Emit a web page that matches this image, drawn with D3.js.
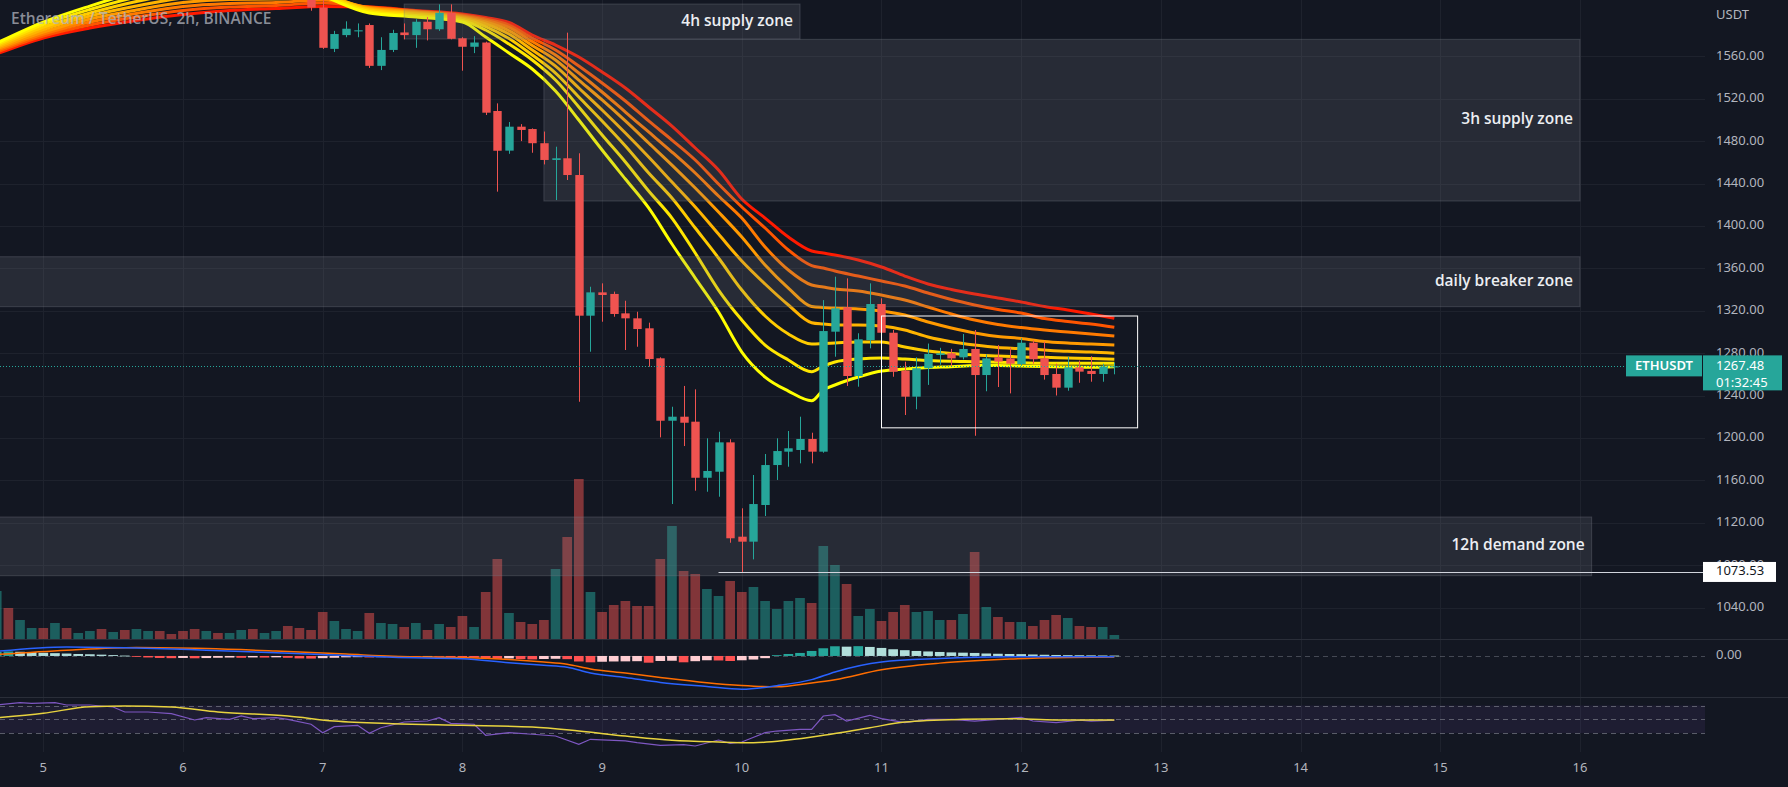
<!DOCTYPE html>
<html><head><meta charset="utf-8">
<script src="https://cdn.jsdelivr.net/npm/d3@7"></script>
<style>html,body{margin:0;padding:0;background:#131722;overflow:hidden}</style>
</head><body><svg id="c" width="1788" height="787"></svg>
<script>
// ---------------- DATA ----------------
const title = "Ethereum / TetherUS, 2h, BINANCE";
const firstCandleIdx = -1; // 2h candle index, 0 = Nov 7 00:00
const opens  = [1625,1606,1567,1580,1583.5,1589.5,1551,1566,1582.5,1580,1592.6,1585.5,1601,1577,1569,1573,1508.4,1471,1493.6,1491.4,1478,1462.2,1463.8,1448,1315.3,1337.3,1335.8,1317.5,1312.8,1303.4,1275.1,1216.2,1220,1215.3,1162.4,1168.1,1195.8,1106.8,1102.1,1136.7,1174.4,1187,1188.6,1199,1187,1300.2,1323.2,1258.4,1292.3,1326.3,1299.2,1263.4,1238.9,1265.7,1278.2,1279.8,1276,1283.9,1259.3,1276,1275,1269.7,1289.8,1275,1260.3,1247.4,1266.6,1263.2,1260.3,1267];
const highs  = [1632,1615,1584,1593,1591,1591,1578,1585,1591,1595,1597,1609,1609,1578,1579,1573.8,1515.6,1498,1496,1492,1489,1474.7,1582.3,1468.5,1342.6,1345.8,1338,1329.4,1319,1308.7,1276,1229.4,1249,1245.8,1199.6,1205.8,1198.7,1133.6,1165,1184.8,1199.6,1206.5,1220,1204.9,1330,1352.1,1350.5,1298.7,1345.8,1331.7,1301.8,1271.9,1276,1289,1285,1284,1298,1301.8,1278.7,1287.6,1285,1294,1292,1290.7,1270,1276.6,1273,1277,1270,1271];
const lows   = [1603,1567,1564,1578,1578,1549,1547,1564,1576,1568,1575,1584,1576,1546.4,1563,1504.6,1432.3,1468,1480,1469,1458,1424.4,1443.3,1234.1,1281.3,1309.6,1314.3,1282.9,1286,1267.2,1200.5,1137.6,1192.3,1150.2,1149.2,1144.5,1101.1,1073.53,1085.4,1126.3,1160.3,1172.8,1176,1176,1186,1276.6,1249,1248.3,1284.5,1297,1257.7,1221.6,1227,1250,1269,1268,1274,1202,1244,1248,1242,1268,1270,1255,1240,1244.5,1252,1253,1253,1260];
const closes = [1606,1568,1581,1586,1584.5,1551,1566,1582,1580,1592.6,1585.5,1601,1576.5,1569,1573,1506.8,1470.9,1493.6,1490.5,1478,1462.2,1463.8,1448,1315.3,1337.3,1334.8,1316.9,1312.8,1302.7,1274.4,1216.2,1220,1214.3,1162.4,1168.8,1195.8,1105.3,1102.1,1137.6,1174.4,1187.6,1190.2,1199,1187,1300.8,1322.2,1258.4,1293,1326.3,1299.2,1262.4,1238.9,1265.7,1279.2,1279.8,1275,1283.9,1259.3,1275,1272,1270,1289.8,1274.2,1259.3,1247.4,1266.6,1262.5,1260.3,1267.2,1267.48];

const firstVolIdx = -28;
const volumes = [48,31,19,11,11,16,11,6,8,10,7,9,10,8,8,5,8,10,8,6,6,9,10,6,8,13,11,9,
  27,18,10,8,26,16,15,12,16,9,15,12,23,12,47,80,26,17,15,19,70,102,160,47,27,34,38,33,33,80,113,68,65,50,43,58,47,52,38,30,38,41,36,93,74,55,23,30,18,27,34,27,28,19,19,25,87,32,22,17,17,13,19,24,21,13,12,12,4];
const earlyVolUp = [1,0,1,1,0,1,0,1,1,0,1,0,1,1,0,0,0,0,1,0,1,1,0,1,1,0,0]; // bars -28..-2

const ribbonIdx = [-28,-24,-20,-16,-12,-8,-4,0,4,8,12,14,16,18,20,22,24,26,28,30,32,34,36,38,40,42,43,44,46,48,50,52,54,56,58,60,62,64,66,68];
const ema1 = [1572.5,1592.3,1607.4,1620.6,1630.1,1633.9,1632.0,1616.9,1600.8,1597.1,1592.3,1578.2,1563.1,1548.0,1527.3,1499.9,1471.6,1444.2,1416.9,1382.9,1350.8,1318.8,1281.0,1257.4,1244.2,1235.1,1245.2,1249.9,1257.4,1263.1,1265.0,1266.4,1267.2,1268.3,1268.3,1267.8,1267.3,1266.9,1266.6,1267.2];
const ema2 = [1571.1,1590.0,1604.1,1615.9,1624.4,1628.2,1627.3,1617.8,1602.3,1598.5,1593.8,1584.8,1571.6,1556.5,1537.6,1512.2,1485.8,1460.3,1432.9,1407.4,1374.4,1339.5,1311.2,1287.6,1273.5,1262.4,1267.8,1271.6,1274.4,1275.4,1274.4,1273.0,1272.2,1271.9,1271.4,1270.9,1270.4,1270.4,1270.4,1270.4];
const ema3 = [1569.7,1587.6,1600.8,1611.7,1619.7,1622.5,1622.5,1617.8,1603.7,1599.9,1595.2,1588.1,1576.8,1561.2,1544.2,1521.6,1499.0,1475.4,1449.9,1426.3,1398.0,1369.7,1339.5,1315.0,1298.0,1288.6,1289.0,1289.5,1290.5,1290.5,1285.7,1282.0,1279.6,1278.2,1277.2,1276.3,1276.0,1275.4,1274.9,1274.2];
const ema4 = [1568.3,1585.3,1598.0,1607.4,1615.0,1617.8,1618.3,1616.9,1604.6,1600.8,1596.1,1590.5,1581.0,1565.9,1550.8,1530.1,1509.3,1487.6,1465.0,1441.4,1417.8,1392.3,1366.9,1345.2,1325.4,1308.7,1307.4,1306.5,1306.5,1305.5,1301.8,1295.2,1290.7,1287.6,1285.3,1284.3,1282.9,1281.7,1281.0,1279.8];
const ema5 = [1566.9,1582.9,1595.2,1603.7,1610.7,1613.6,1614.0,1615.5,1605.5,1601.8,1597.1,1592.3,1584.3,1570.2,1556.5,1537.6,1518.8,1499.0,1478.2,1457.4,1435.7,1413.1,1389.5,1363.1,1341.4,1324.0,1323.0,1322.5,1321.6,1319.7,1315.9,1309.3,1303.7,1299.0,1295.6,1293.8,1290.9,1289.5,1288.6,1287.6];
const ema6 = [1565.5,1581.0,1592.3,1600.4,1607.0,1609.8,1610.7,1613.1,1606.0,1602.3,1598.0,1593.8,1587.2,1573.9,1561.2,1544.2,1526.3,1507.4,1488.6,1469.7,1449.9,1428.2,1407.4,1380.1,1358.4,1344.2,1342.3,1340.4,1338.6,1334.8,1330.1,1323.5,1316.9,1311.2,1307.0,1304.1,1301.8,1299.9,1298.0,1296.1];
const ema7 = [1564.0,1579.1,1589.5,1597.1,1603.2,1606.5,1607.9,1610.3,1606.5,1602.7,1599.0,1595.2,1589.5,1577.2,1565.9,1550.8,1534.8,1517.8,1499.0,1481.0,1462.2,1439.5,1417.8,1398.0,1377.3,1362.6,1360.3,1357.4,1352.7,1348.0,1343.3,1336.7,1330.5,1325.4,1321.1,1317.8,1312.6,1309.8,1307.4,1304.3];
const ema8 = [1562.2,1577.3,1586.7,1593.8,1599.4,1603.2,1605.1,1607.0,1606.5,1603.2,1599.9,1596.6,1591.9,1580.1,1570.6,1559.3,1545.2,1530.1,1512.2,1494.2,1473.5,1452.7,1425.4,1407.4,1389.5,1376.3,1374.4,1372.5,1367.8,1361.2,1352.7,1345.2,1340.0,1335.7,1331.9,1328.2,1323.9,1320.6,1316.9,1312.8];

const macdIdx = [-28,-22,-16,-10,-4,2,6,12,16,19,21,23,26,29,33,36,39,42,44,48,53,59,64,68];
const macdLine = [8.5,16.5,14.5,10.5,6,1,-2.5,-5,-12.5,-17,-20.5,-31,-39,-48,-55.5,-60.5,-54,-43,-29,-11,-4.8,-1.5,-1.2,-1.3];
const signalLine = [2.5,10.5,15.5,13.5,9,3.5,-0.5,-3,-6.5,-11,-15,-23.5,-31,-39,-48.5,-53.5,-56,-49,-43,-25,-13,-5.5,-2.8,-1.8];
const firstHistIdx = -28;
const macdHist = [7.3,8.2,7.6,6.9,5.8,5.1,4.4,3.6,3.1,2.4,1.6,0.7,-1.5,-2.7,-3.6,-4.0,-3.6,-4.2,-3.8,-3.3,-2.9,-3.3,-2.7,-2.9,-2.5,-3.3,-4.4,-4.7,
  -4.0,-3.3,-2.5,-2.2,-2.7,-2.2,-1.8,-1.5,-1.6,-0.9,-1.3,-2.2,-2.9,-3.3,-4.7,-5.1,-4.5,-5.6,-6.2,-5.5,-5.1,-5.8,-10.0,-11.5,-10.5,-10.0,-9.8,-9.5,-12.2,-9.1,-8.7,-11.5,-9.5,-7.8,-8.2,-9.1,-7.8,-6.5,-4.0,1.5,3.6,5.5,9.1,14.0,17.6,16.9,17.8,16.4,14.6,12.2,10.5,9.1,8.2,7.3,6.5,6.0,5.5,4.5,4.0,3.6,3.3,2.7,2.2,1.8,1.5,1.3,1.1,0.9,0.7];

const rsiIdx = [-28,-26,-25,-23,-22,-20,-18,-17,-15,-13,-11,-10,-8,-7,-6,-4,-3,-1,0,1,3,4,5,7,9,10,11,13,14,16,18,20,22,23,26,27,29,31,32,34,35,36,38,39,41,42,43,44,45,47,48,50,52,54,56,58,60,61,63,65,66,68];
const rsiVals = [70.7,74.1,73.2,74.1,70.7,70.7,67.8,60.6,60.6,58.1,49,52.3,50,54.8,50.9,52.3,50,42.8,30.6,39.3,41.3,29.7,37.8,46.1,47.5,52.3,44.2,42.8,26.8,30.6,28.3,25.8,13.8,21,18.6,16.1,12.3,13.2,11.3,20,15.2,17.1,30.6,33,35.5,35.5,54.8,56.7,47.5,55.8,50.9,45.1,50,50,47.5,50,52.9,47.5,45.1,48.6,47.5,48.6];
const rsiMaIdx = [-28,-24,-20,-17,-13,-9,-3,1,6,12,18,22,26,30,34,37,40,43,47,50,55,59,63,68];
const rsiMaVals = [52.3,58.7,68.3,69.3,67.8,60.6,54.8,47.5,43.6,41.3,38.8,33,25.8,19.6,17.1,16.1,20,26.8,37.8,46.1,50,50.9,49,49];
const rsiLevels = [70, 50, 30];

const zoneNames = ["4h supply zone","3h supply zone","daily breaker zone","12h demand zone"];
const zoneStart = [7, 19, -40, -40];
const zoneEnd   = [41, 108, 108, 109];
const zoneHigh  = [1609.3, 1576.0, 1370.9, 1125.4];
const zoneLow   = [1576.3, 1423.5, 1323.8, 1070.0];
const rangeBoxIdx = [48, 70];
const rangeBoxPrice = [1315.0, 1209.5];
const lowLineStartIdx = 34;
const lowLinePrice = 1073.53;
const lastPrice = 1267.48;
const countdown = "01:32:45";
const symbol = "ETHUSDT";
const priceTicks = [1560,1520,1480,1440,1400,1360,1320,1280,1240,1200,1160,1120,1080,1040];
const dayTicks = [5,6,7,8,9,10,11,12,13,14,15,16];

// ---------------- LAYOUT ----------------
const W = 1788, H = 787, PANE_R = 1705;
const MAIN = [0, 639], MACDP = [640, 696], RSIP = [698, 752];
const t0 = Date.UTC(2022, 10, 7);
const H2 = 2 * 3600 * 1000;
const tOf = i => new Date(t0 + i * H2);
const x = d3.scaleUtc().domain([new Date(Date.UTC(2022,10,5)), new Date(Date.UTC(2022,10,17))]).range([43.3, 43.3 + 12 * 139.7]);
const step = x(tOf(1)) - x(tOf(0));
const y = d3.scaleLinear().domain([1040, 1560]).range([607.5, 56.3]);
const yVol = d3.scaleLinear().domain([0, 200]).range([639, 439]);
const yMacd = d3.scaleLinear().domain([-72.7, 29]).range([696, 640]);
const yRsi = d3.scaleLinear().domain([0, 100]).range([753.8, 684.8]);

const UP = "#26a69a", DOWN = "#ef5350", TXT = "#b2b5be", GRID = "#1e222d";
const svg = d3.select("#c");
svg.append("rect").attr("width", W).attr("height", H).attr("fill", "#131722");
const defs = svg.append("defs");
function clip(id, y0, y1){ defs.append("clipPath").attr("id", id).append("rect").attr("x",0).attr("y",y0).attr("width",PANE_R).attr("height",y1-y0); }
clip("cMain", MAIN[0], MAIN[1]); clip("cMacd", MACDP[0], MACDP[1]); clip("cRsi", RSIP[0], RSIP[1]);

// grid
const grid = svg.append("g");
dayTicks.forEach(d => {
  const xx = Math.round(x(new Date(Date.UTC(2022,10,d)))) + 0.5;
  grid.append("line").attr("x1",xx).attr("x2",xx).attr("y1",0).attr("y2",RSIP[1]).attr("stroke",GRID).attr("stroke-width",1);
});
priceTicks.forEach(p => {
  const yy = Math.round(y(p)) + 0.5;
  grid.append("line").attr("x1",0).attr("x2",PANE_R).attr("y1",yy).attr("y2",yy).attr("stroke",GRID).attr("stroke-width",1);
});

// pane separators
[MAIN[1]+0.5, MACDP[1]+1.5].forEach(yy => svg.append("line").attr("x1",0).attr("x2",W).attr("y1",yy).attr("y2",yy).attr("stroke","#2a2e39").attr("stroke-width",1));

// ribbon
const main = svg.append("g").attr("clip-path","url(#cMain)");
const emaSets = [ema8, ema7, ema6, ema5, ema4, ema3, ema2, ema1];
const emaColors = ["#ff1a00","#ff5500","#ff7a00","#ff9a00","#ffb400","#ffcc00","#ffe600","#ffff00"];
const rLine = d3.line().x(d => x(tOf(d[0]))).y(d => y(d[1])).curve(d3.curveMonotoneX);
emaSets.forEach((arr, k) => {
  main.append("path").attr("d", rLine(ribbonIdx.map((ix, j) => [ix, arr[j]])))
    .attr("fill","none").attr("stroke",emaColors[k]).attr("stroke-width",3).attr("stroke-linejoin","round");
});

// title (over the ribbon, slightly translucent)
svg.append("text").attr("x",11).attr("y",20).attr("dominant-baseline","middle")
  .attr("font-family","'Open Sans', sans-serif").attr("font-weight",600).attr("font-size",15.5)
  .attr("fill",TXT).attr("fill-opacity",0.75).text(title);

// volume
const bw = step * 0.83;
volumes.forEach((v, k) => {
  const ix = firstVolIdx + k;
  let up;
  if (ix < firstCandleIdx) up = earlyVolUp[k] === 1;
  else { const c = ix - firstCandleIdx; up = closes[c] >= opens[c]; }
  main.append("rect").attr("x", x(tOf(ix)) - bw/2).attr("y", yVol(v)).attr("width", bw).attr("height", yVol(0) - yVol(v))
    .attr("fill", up ? UP : DOWN).attr("fill-opacity", 0.5);
});

// zones
zoneNames.forEach((nm, k) => {
  const x0 = Math.max(-2, x(tOf(zoneStart[k]))), x1 = x(tOf(zoneEnd[k]));
  const y0 = y(zoneHigh[k]), y1 = y(zoneLow[k]);
  main.append("rect").attr("x",x0).attr("y",y0).attr("width",x1-x0).attr("height",y1-y0)
    .attr("fill","rgba(120,123,134,0.2)").attr("stroke","rgba(120,123,134,0.35)").attr("stroke-width",1);
});

// candles
const cw = step * 0.72;
opens.forEach((o, k) => {
  const ix = firstCandleIdx + k, c = closes[k];
  const col = c >= o ? UP : DOWN;
  const cx = Math.round(x(tOf(ix))) + 0.5;
  main.append("line").attr("x1",cx).attr("x2",cx).attr("y1",y(highs[k])).attr("y2",y(lows[k])).attr("stroke",col).attr("stroke-width",1);
  const top = y(Math.max(o,c)), bot = y(Math.min(o,c));
  main.append("rect").attr("x",cx - cw/2).attr("y",top).attr("width",cw).attr("height",Math.max(1, bot-top)).attr("fill",col);
});

// zone labels
zoneNames.forEach((nm, k) => {
  main.append("text").attr("x", x(tOf(zoneEnd[k])) - 7).attr("y", (y(zoneHigh[k]) + y(zoneLow[k]))/2)
    .attr("text-anchor","end").attr("dominant-baseline","middle")
    .attr("font-family","'Open Sans', sans-serif").attr("font-weight",600).attr("font-size",15.5)
    .attr("fill","#eceef2").text(nm);
});

// range box
main.append("rect").attr("x", x(tOf(rangeBoxIdx[0]))).attr("y", y(rangeBoxPrice[0]))
  .attr("width", x(tOf(rangeBoxIdx[1])) - x(tOf(rangeBoxIdx[0]))).attr("height", y(rangeBoxPrice[1]) - y(rangeBoxPrice[0]))
  .attr("fill","none").attr("stroke","#ffffff").attr("stroke-width",1);

// low line
svg.append("line").attr("x1", x(tOf(lowLineStartIdx))).attr("x2", PANE_R).attr("y1", Math.round(y(lowLinePrice))+0.5).attr("y2", Math.round(y(lowLinePrice))+0.5)
  .attr("stroke","#d1d4dc").attr("stroke-width",1);

// last price line
svg.append("line").attr("x1",0).attr("x2",PANE_R).attr("y1",Math.round(y(lastPrice))+0.5).attr("y2",Math.round(y(lastPrice))+0.5)
  .attr("stroke",UP).attr("stroke-width",1).attr("stroke-dasharray","1,2");

// MACD pane
const mg = svg.append("g").attr("clip-path","url(#cMacd)");
mg.append("line").attr("x1",0).attr("x2",PANE_R).attr("y1",Math.round(yMacd(0))+0.5).attr("y2",Math.round(yMacd(0))+0.5)
  .attr("stroke","#787b86").attr("stroke-opacity",0.5).attr("stroke-dasharray","5,4");
macdHist.forEach((h, k) => {
  const ix = firstHistIdx + k, prev = k > 0 ? macdHist[k-1] : h;
  let col;
  if (h >= 0) col = h >= prev ? "#26a69a" : "#b2dfdb"; else col = h <= prev ? "#ff5252" : "#ffcdd2";
  const y0 = yMacd(Math.max(0,h)), y1 = yMacd(Math.min(0,h));
  mg.append("rect").attr("x", x(tOf(ix)) - bw/2).attr("y", y0).attr("width", bw).attr("height", Math.max(0.8, y1-y0)).attr("fill", col);
});
const mLine = d3.line().x(d => x(tOf(d[0]))).y(d => yMacd(d[1])).curve(d3.curveMonotoneX);
mg.append("path").attr("d", mLine(macdIdx.map((ix,j)=>[ix, signalLine[j]]))).attr("fill","none").attr("stroke","#ff6d00").attr("stroke-width",1.5);
mg.append("path").attr("d", mLine(macdIdx.map((ix,j)=>[ix, macdLine[j]]))).attr("fill","none").attr("stroke","#2962ff").attr("stroke-width",1.5);

// RSI pane
const rg = svg.append("g").attr("clip-path","url(#cRsi)");
rg.append("rect").attr("x",0).attr("y",yRsi(70)).attr("width",PANE_R).attr("height",yRsi(30)-yRsi(70)).attr("fill","rgba(126,87,194,0.1)");
rsiLevels.forEach(l => rg.append("line").attr("x1",0).attr("x2",PANE_R).attr("y1",Math.round(yRsi(l))+0.5).attr("y2",Math.round(yRsi(l))+0.5)
  .attr("stroke","#787b86").attr("stroke-opacity",0.7).attr("stroke-dasharray","5,4"));
const rLineS = d3.line().x(d => x(tOf(d[0]))).y(d => yRsi(d[1]));
rg.append("path").attr("d", rLineS(rsiIdx.map((ix,j)=>[ix, rsiVals[j]]))).attr("fill","none").attr("stroke","#7e57c2").attr("stroke-width",1.2);
rg.append("path").attr("d", rLineS.curve(d3.curveMonotoneX)(rsiMaIdx.map((ix,j)=>[ix, rsiMaVals[j]]))).attr("fill","none").attr("stroke","#e8d33f").attr("stroke-width",1.5);

// price axis labels
const axX = 1716;
const ax = svg.append("g").attr("font-family","'Noto Sans', sans-serif").attr("font-size",13).attr("fill",TXT);
ax.append("text").attr("x",axX).attr("y",16).attr("dominant-baseline","middle").text("USDT");
priceTicks.forEach(p => ax.append("text").attr("x",axX).attr("y",y(p)).attr("dominant-baseline","middle").text(d3.format(".2f")(p)));
ax.append("text").attr("x",axX).attr("y",yMacd(0)).attr("dominant-baseline","middle").text(d3.format(".2f")(0));

// time axis
dayTicks.forEach(d => ax.append("text").attr("x", x(new Date(Date.UTC(2022,10,d)))).attr("y",769).attr("text-anchor","middle").attr("dominant-baseline","middle").text(d));

// last price labels
const ly = y(lastPrice);
svg.append("rect").attr("x",1626).attr("y",ly-11).attr("width",76).attr("height",21).attr("fill",UP);
svg.append("text").attr("x",1664).attr("y",ly).attr("text-anchor","middle").attr("dominant-baseline","middle")
  .attr("font-family","'Noto Sans', sans-serif").attr("font-size",13).attr("font-weight",600).attr("fill","#ffffff").text(symbol);
svg.append("rect").attr("x",1703).attr("y",ly-11).attr("width",79).attr("height",35).attr("fill",UP);
svg.append("text").attr("x",axX).attr("y",ly).attr("dominant-baseline","middle").attr("font-family","'Noto Sans', sans-serif").attr("font-size",13).attr("fill","#ffffff").text(d3.format(".2f")(lastPrice));
svg.append("text").attr("x",axX).attr("y",ly+17).attr("dominant-baseline","middle").attr("font-family","'Noto Sans', sans-serif").attr("font-size",13).attr("fill","#ffffff").text(countdown);

// low price label
const lo = y(lowLinePrice);
svg.append("rect").attr("x",1703).attr("y",lo-10).attr("width",73).attr("height",20).attr("fill","#ffffff");
svg.append("text").attr("x",axX).attr("y",lo).attr("dominant-baseline","middle").attr("font-family","'Noto Sans', sans-serif").attr("font-size",13).attr("fill","#131722").text(d3.format(".2f")(lowLinePrice));
</script></body></html>
